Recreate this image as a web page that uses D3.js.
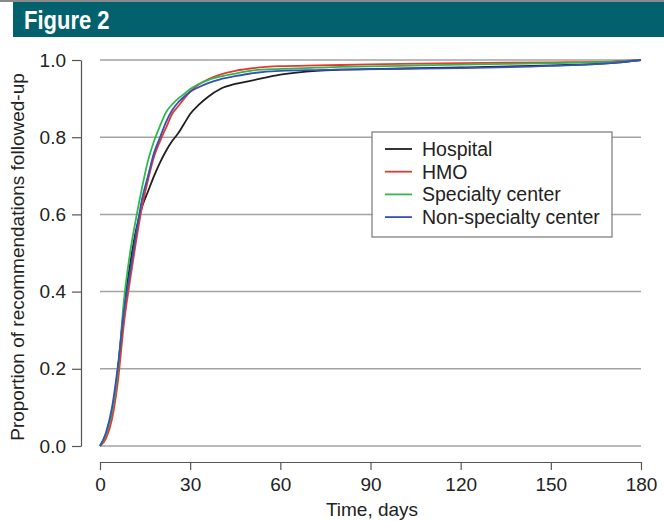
<!DOCTYPE html>
<html>
<head>
<meta charset="utf-8">
<script src="https://cdn.jsdelivr.net/npm/d3@7"></script>
<style>
body { margin: 0; background: #fff; }
svg { display: block; font-family: "Liberation Sans", Arial, sans-serif; }
.axis text { font-size: 19px; fill: #222; }
.axis path, .axis line { stroke: #555; stroke-width: 1.2; }
</style>
</head>
<body>
<svg id="chart" width="664" height="521"></svg>
<script>

// days on the x axis
var days = [0, 2, 4, 6, 8, 10, 12, 14, 16, 18, 20, 22, 24, 26, 28, 30, 33, 36, 40, 45, 50, 60, 72, 80, 100, 120, 150, 170, 180];

var hospital  = [0, 0.03, 0.09, 0.20, 0.36, 0.47, 0.56, 0.62, 0.66, 0.70, 0.735, 0.765, 0.79, 0.81, 0.835, 0.86, 0.885, 0.905, 0.925, 0.938, 0.946, 0.962, 0.972, 0.975, 0.978, 0.981, 0.986, 0.992, 1.0];
var hmo       = [0, 0.02, 0.07, 0.17, 0.32, 0.43, 0.53, 0.62, 0.69, 0.75, 0.79, 0.825, 0.86, 0.88, 0.90, 0.918, 0.937, 0.95, 0.962, 0.972, 0.978, 0.984, 0.986, 0.987, 0.99, 0.992, 0.994, 0.996, 1.0];
var specialty = [0, 0.03, 0.09, 0.20, 0.38, 0.50, 0.59, 0.67, 0.74, 0.79, 0.83, 0.865, 0.885, 0.90, 0.912, 0.925, 0.938, 0.948, 0.957, 0.965, 0.972, 0.977, 0.98, 0.982, 0.985, 0.988, 0.992, 0.995, 1.0];
var nonspec   = [0, 0.035, 0.10, 0.21, 0.35, 0.45, 0.55, 0.64, 0.70, 0.76, 0.80, 0.84, 0.87, 0.89, 0.905, 0.918, 0.93, 0.94, 0.95, 0.958, 0.965, 0.972, 0.974, 0.975, 0.977, 0.979, 0.985, 0.992, 1.0];

var seriesNames = ['Hospital', 'HMO', 'Specialty center', 'Non-specialty center'];
var seriesColors = ['#1f1f1f', '#e8392e', '#2fb84c', '#3750b8'];
var seriesValues = [hospital, hmo, specialty, nonspec];

var xTicks = [0, 30, 60, 90, 120, 150, 180];
var yTicks = [0, 0.2, 0.4, 0.6, 0.8, 1.0];

var svg = d3.select('#chart');

// header band
svg.append('rect').attr('x', 0).attr('y', 0).attr('width', 664).attr('height', 2).attr('fill', '#8a8a8a');
svg.append('rect').attr('x', 13).attr('y', 2).attr('width', 651).attr('height', 35).attr('fill', '#03616d');
svg.append('text').attr('transform', 'translate(24,29) scale(0.88,1)')
  .style('font-weight', 'bold').style('font-size', '25px').attr('fill', '#fff')
  .text('Figure 2');

var x = d3.scaleLinear().domain([0, 180]).range([100, 641]);
var y = d3.scaleLinear().domain([0, 1]).range([446, 60]);

// grid
svg.append('g').selectAll('line').data(yTicks).enter().append('line')
  .attr('x1', x(0)).attr('x2', x(180))
  .attr('y1', function(d) { return y(d); }).attr('y2', function(d) { return y(d); })
  .attr('stroke', '#a3a3a3').attr('stroke-width', 1.5);

// axes
var yAxis = d3.axisLeft(y).tickValues(yTicks).tickFormat(d3.format('.1f')).tickSize(9).tickSizeOuter(0).tickPadding(6);
svg.append('g').attr('class', 'axis').attr('transform', 'translate(81,0)').call(yAxis);

var xAxis = d3.axisBottom(x).tickValues(xTicks).tickSize(8).tickSizeOuter(0).tickPadding(8);
svg.append('g').attr('class', 'axis').attr('transform', 'translate(0,462)').call(xAxis);

svg.append('text').attr('x', 372).attr('y', 516).attr('text-anchor', 'middle')
  .style('font-size', '19px').attr('fill', '#222').text('Time, days');

svg.append('text').attr('transform', 'translate(24,257) rotate(-90)').attr('text-anchor', 'middle')
  .style('font-size', '19px').attr('fill', '#222').text('Proportion of recommendations followed-up');

// curves
var line = d3.line()
  .x(function(d, i) { return x(days[i]); })
  .y(function(d) { return y(d); })
  .curve(d3.curveMonotoneX);

seriesValues.forEach(function(vals, k) {
  svg.append('path').datum(vals)
    .attr('d', line)
    .attr('fill', 'none')
    .attr('stroke', seriesColors[k])
    .attr('stroke-width', 1.8);
});

// legend
var lg = svg.append('g').attr('transform', 'translate(372,132)');
lg.append('rect').attr('width', 240).attr('height', 105).attr('fill', '#fff').attr('stroke', '#777').attr('stroke-width', 1.2);
seriesNames.forEach(function(name, k) {
  var cy = 17 + k * 22.7;
  lg.append('line').attr('x1', 13).attr('x2', 40).attr('y1', cy).attr('y2', cy)
    .attr('stroke', seriesColors[k]).attr('stroke-width', 1.8);
  lg.append('text').attr('x', 50).attr('y', cy + 7)
    .style('font-size', '19.5px').attr('fill', '#222').text(name);
});

</script>
</body>
</html>
